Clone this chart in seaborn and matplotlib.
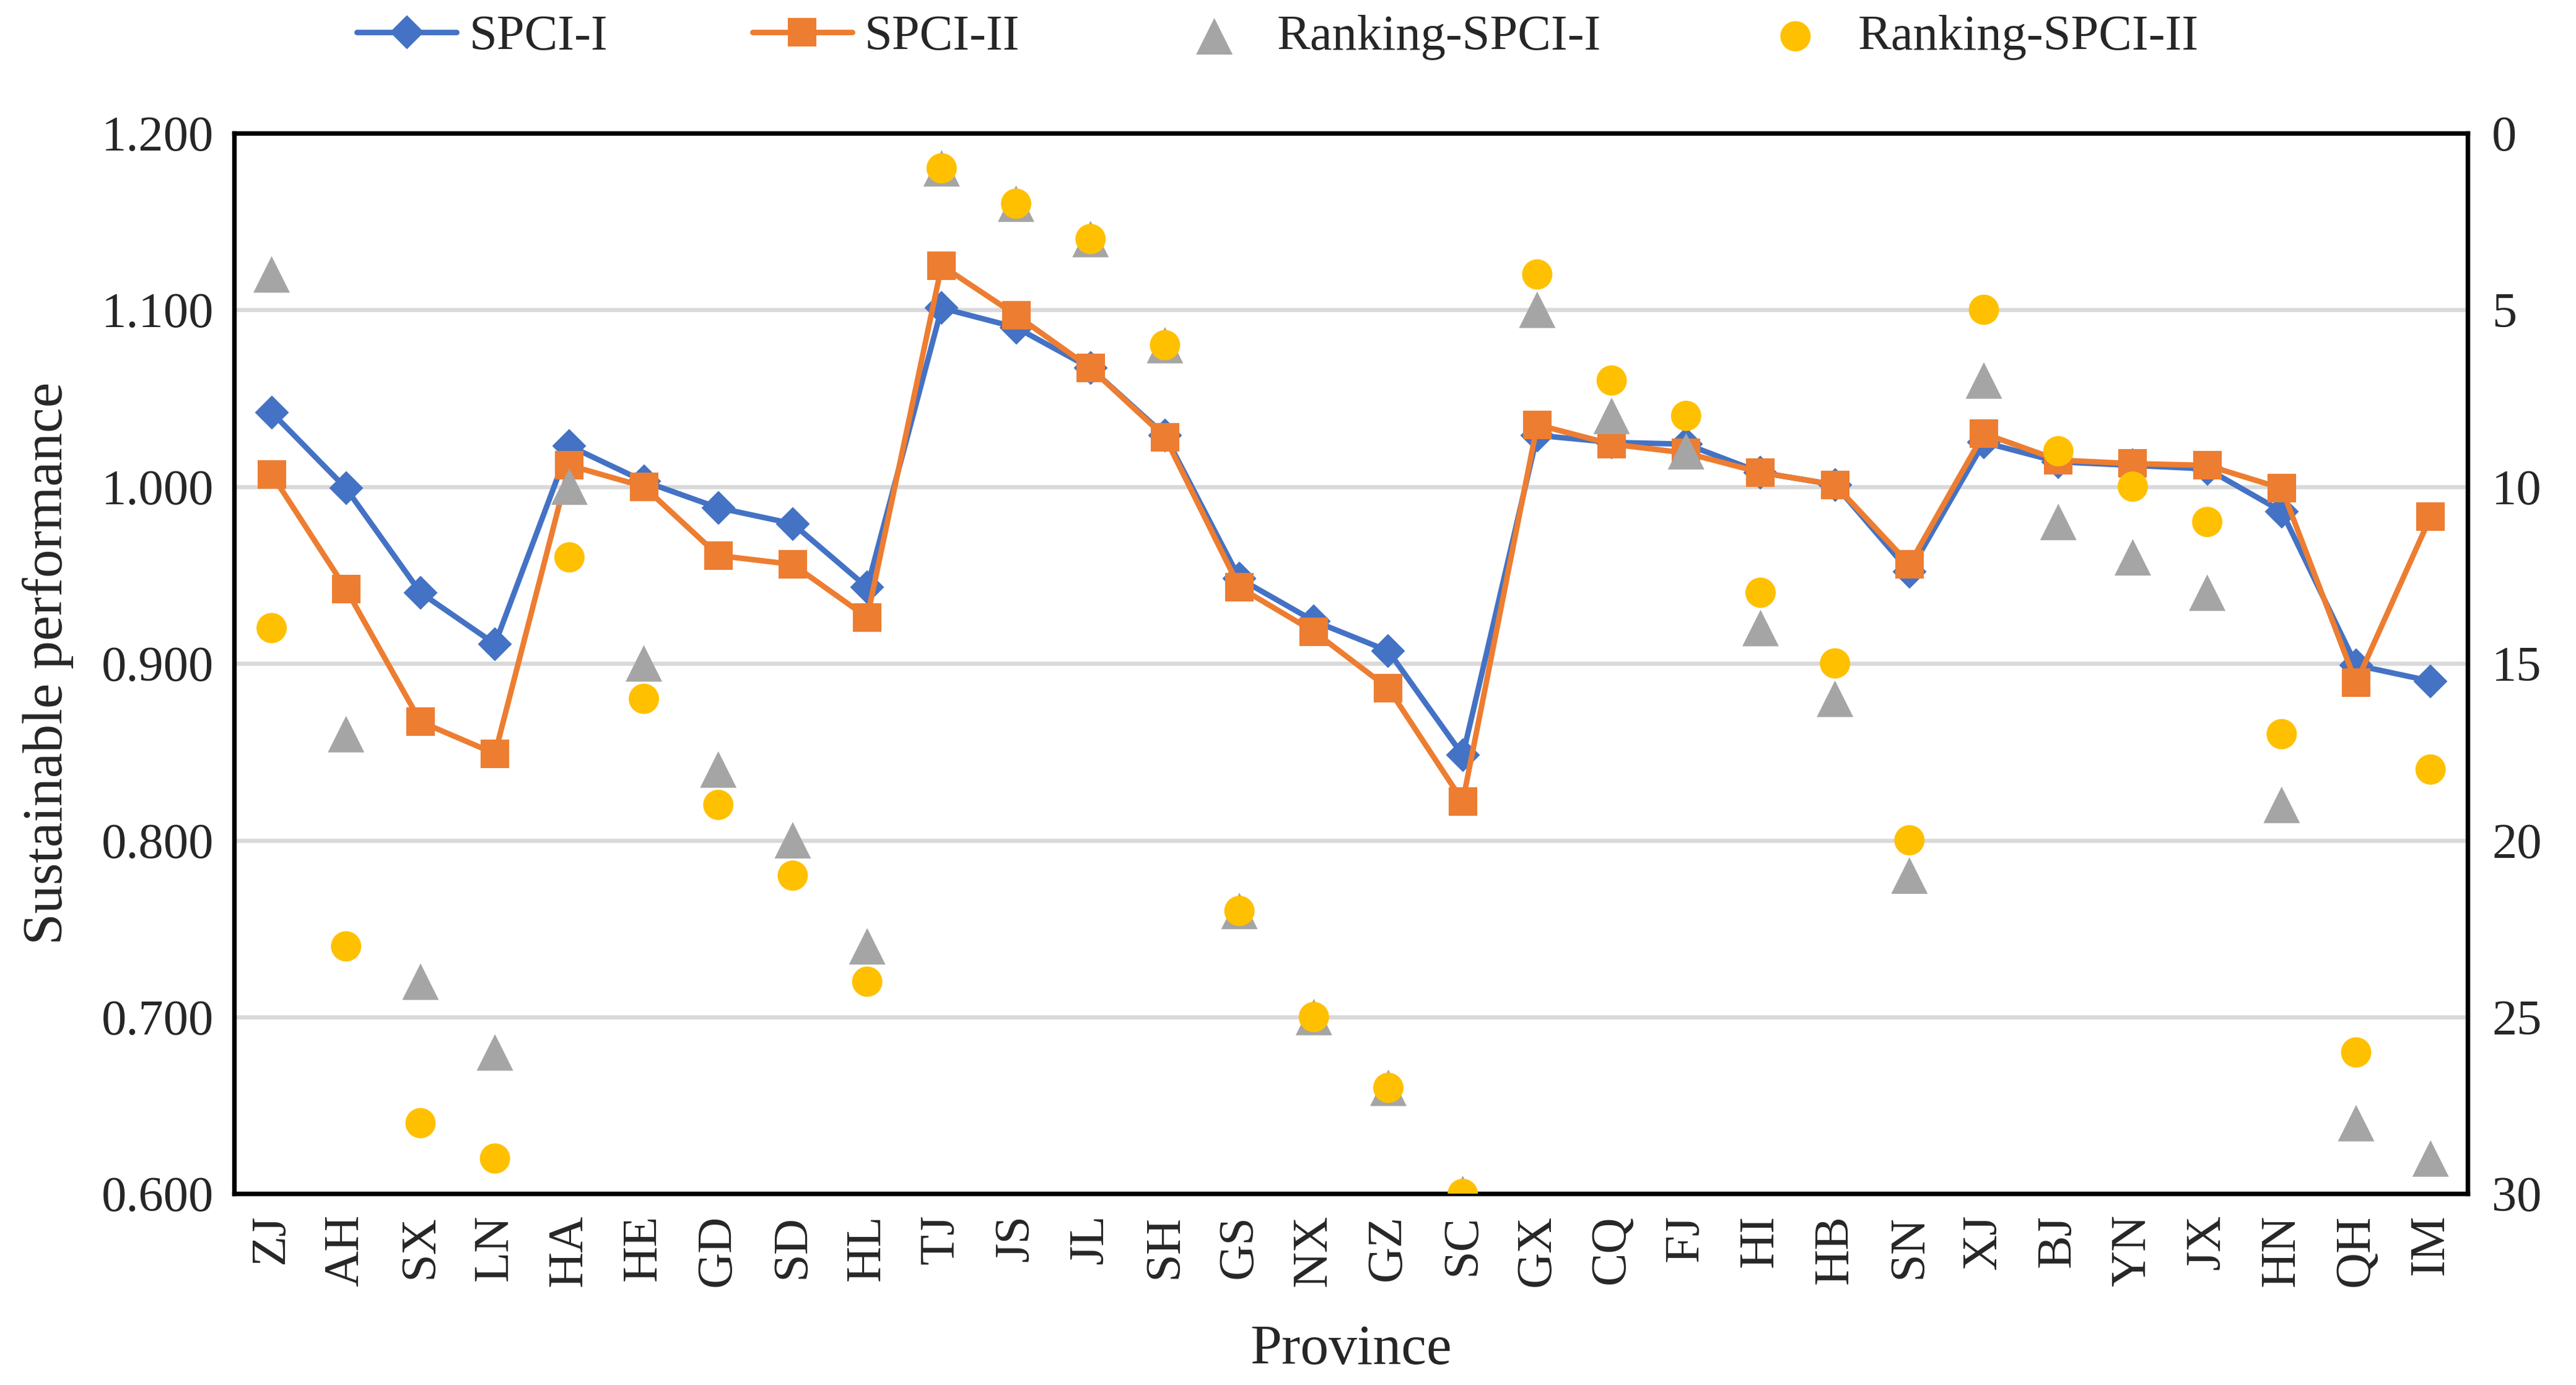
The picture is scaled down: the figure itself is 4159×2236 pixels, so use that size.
import matplotlib
matplotlib.use("Agg")
import matplotlib.pyplot as plt
import seaborn as sns
import pandas as pd
import numpy as np

provinces = ["ZJ", "AH", "SX", "LN", "HA", "HE", "GD", "SD", "HL", "TJ",
             "JS", "JL", "SH", "GS", "NX", "GZ", "SC", "GX", "CQ", "FJ",
             "HI", "HB", "SN", "XJ", "BJ", "YN", "JX", "HN", "QH", "IM"]
spci_1 = [1.042, 0.999, 0.940, 0.911, 1.023, 1.003, 0.988, 0.979, 0.943, 1.101,
          1.090, 1.067, 1.029, 0.948, 0.924, 0.907, 0.848, 1.029, 1.025, 1.024,
          1.008, 1.001, 0.952, 1.025, 1.014, 1.012, 1.010, 0.986, 0.899, 0.890]
spci_2 = [1.007, 0.942, 0.867, 0.849, 1.012, 1.000, 0.961, 0.956, 0.926, 1.125,
          1.097, 1.067, 1.028, 0.943, 0.918, 0.886, 0.822, 1.035, 1.024, 1.019,
          1.008, 1.001, 0.956, 1.030, 1.015, 1.013, 1.012, 0.999, 0.889, 0.983]
rank_1 = [4, 17, 24, 26, 10, 15, 18, 20, 23, 1,
          2, 3, 6, 22, 25, 27, 30, 5, 8, 9,
          14, 16, 21, 7, 11, 12, 13, 19, 28, 29]
rank_2 = [14, 23, 28, 29, 12, 16, 19, 21, 24, 1,
          2, 3, 6, 22, 25, 27, 30, 4, 7, 8,
          13, 15, 20, 5, 9, 10, 11, 17, 26, 18]

df = pd.DataFrame({"Province": provinces, "SPCI-I": spci_1, "SPCI-II": spci_2,
                   "Ranking-SPCI-I": rank_1, "Ranking-SPCI-II": rank_2})
df["pos"] = np.arange(len(df))

sns.set_style("white")
plt.rcParams["font.family"] = ["Liberation Serif", "DejaVu Serif"]

fig, ax = plt.subplots(figsize=(20.795, 11.18), dpi=200)
fig.subplots_adjust(left=0.091, right=0.958, top=0.904, bottom=0.138)

blue = "#4472C4"
orange = "#ED7D31"
grey = "#A5A5A5"
gold = "#FFC000"

sns.lineplot(data=df, x="pos", y="SPCI-I", ax=ax, color=blue, lw=3.2,
             marker="D", markersize=13, markeredgecolor=blue, label="SPCI-I", zorder=3)
sns.lineplot(data=df, x="pos", y="SPCI-II", ax=ax, color=orange, lw=3.2,
             marker="s", markersize=16, markeredgecolor=orange, label="SPCI-II", zorder=4)

ax.set_ylim(0.6, 1.2)
ax.set_yticks(np.arange(0.6, 1.2001, 0.1))
ax.set_yticklabels([f"{v:.3f}" for v in np.arange(0.6, 1.2001, 0.1)])
ax.set_xlim(-0.5, len(df) - 0.5)
ax.set_xticks(df["pos"])
ax.set_xticklabels(df["Province"], rotation=90)
ax.yaxis.grid(True, color="#D9D9D9", lw=2.4)
ax.set_axisbelow(True)
ax.set_xlabel("Province", fontsize=33, labelpad=22)
ax.set_ylabel("Sustainable performance", fontsize=33, labelpad=16)
ax.tick_params(axis="both", labelsize=29, length=0, pad=12)

ax2 = ax.twinx()
sns.scatterplot(data=df, x="pos", y="Ranking-SPCI-I", ax=ax2, color=grey,
                marker="^", s=450, edgecolor="none", label="Ranking-SPCI-I", zorder=5)
sns.scatterplot(data=df, x="pos", y="Ranking-SPCI-II", ax=ax2, color=gold,
                marker="o", s=310, edgecolor="none", label="Ranking-SPCI-II", zorder=6)
ax2.set_ylim(30, 0)
ax2.set_yticks(range(0, 31, 5))
ax2.set_ylabel("")
ax2.tick_params(axis="y", labelsize=29, length=0, pad=14)
ax2.grid(False)

for a in (ax, ax2):
    for sp in a.spines.values():
        sp.set_color("black")
        sp.set_linewidth(2.6)

h1, l1 = ax.get_legend_handles_labels()
h2, l2 = ax2.get_legend_handles_labels()
ax.get_legend().remove()
ax2.get_legend().remove()
fig.legend(h1 + h2, l1 + l2, loc="upper center", bbox_to_anchor=(0.496, 1.022),
           ncol=4, frameon=False, fontsize=29, handlelength=2.0,
           handletextpad=0.25, columnspacing=2.9)

plt.savefig("out.png")
